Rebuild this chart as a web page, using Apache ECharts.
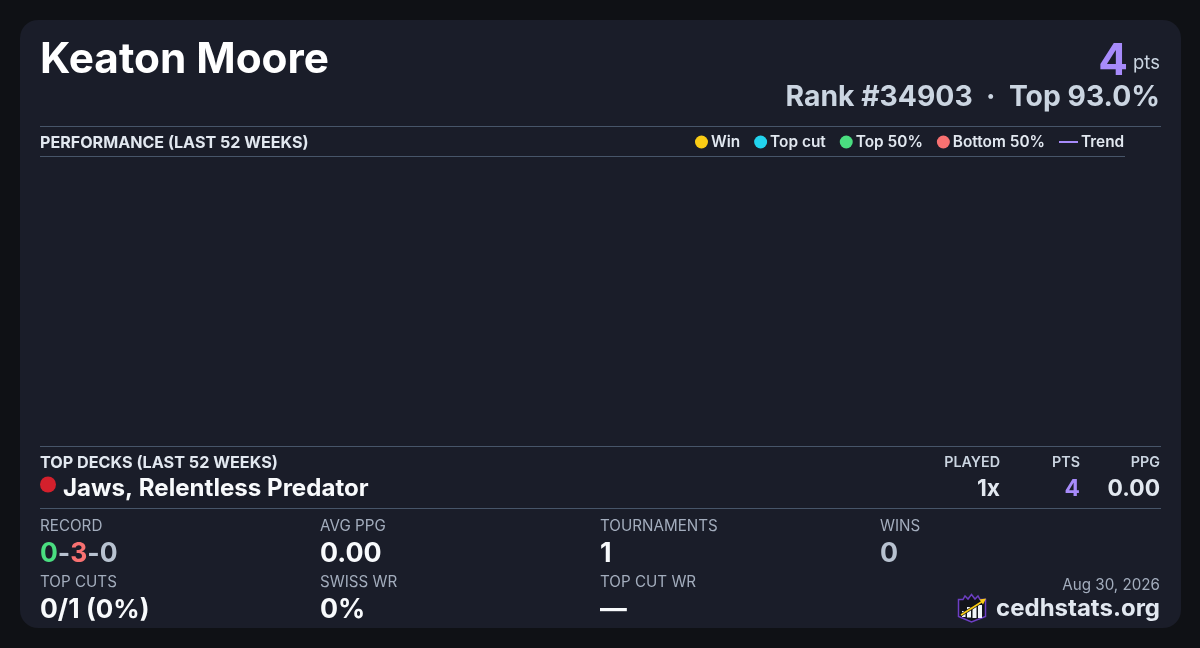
<!DOCTYPE html>
<html><head><meta charset="utf-8">
<script src="https://cdn.jsdelivr.net/npm/echarts@6/dist/echarts.min.js"></script>
<style>html,body{margin:0;padding:0;background:#0f1115}#c{width:1200px;height:648px}</style>
</head><body><div id="c"></div>
<script>
const playerName = 'Keaton Moore';
const points = '4';
const rankLine = 'Rank #34903  ·  Top 93.0%';
const weeks = [];
const winResults = [];
const topCutResults = [];
const top50Results = [];
const bottom50Results = [];
const trendValues = [];
const deckName = 'Jaws, Relentless Predator';
const deckHeaders = ['PLAYED', 'PTS', 'PPG'];
const deckValues = ['1x', '4', '0.00'];
const stats = [['RECORD', null], ['AVG PPG', '0.00'], ['TOURNAMENTS', '1'], ['WINS', '0'], ['TOP CUTS', null], ['SWISS WR', '0%'], ['TOP CUT WR', '—']];
const topCutCount = '0/1';
const topCutPct = '(0%)';
const dateText = 'Aug 30, 2026';
const siteText = 'cedhstats.org';

const F = 'Inter';
const t = (x, y, text, size, weight, fill, align) => ({
  type: 'text', x, y, silent: true,
  style: { text, fontFamily: F, fontSize: size, fontWeight: weight, fill, align: align || 'left', verticalAlign: 'middle' }
});
const rule = (x1, x2, y) => ({ type: 'rect', silent: true, shape: { x: x1, y, width: x2 - x1, height: 1 }, style: { fill: '#475569' } });

const colX = [40, 320, 600, 880];
const statEls = [];
stats.forEach((s, i) => {
  const c = i % 4, row = i < 4 ? 0 : 1;
  const ly = row ? 582.5 : 526.5, vy = row ? 610 : 554;
  statEls.push(t(colX[c], ly, s[0], 15.2, 400, '#a3adbd'));
  if (s[1] !== null) {
    const col = s[0] === 'WINS' ? '#b8c2d0' : '#f8fafc';
    statEls.push(t(colX[c], vy, s[1], 26.8, 700, col));
  }
});
statEls.push(t(40, 610, topCutCount, 26.5, 700, '#f8fafc'));
statEls.push(t(86, 610, topCutPct, 26, 700, '#f8fafc'));
statEls.push({
  type: 'text', x: 40, y: 554, silent: true,
  style: {
    text: '{g|0}{m|-}{r|3}{m|-}{n|0}', verticalAlign: 'middle', fontFamily: F,
    rich: {
      g: { fontFamily: F, fontSize: 26.5, fontWeight: 700, fill: '#4ade80' },
      r: { fontFamily: F, fontSize: 26.5, fontWeight: 700, fill: '#f87171' },
      m: { fontFamily: F, fontSize: 26.5, fontWeight: 700, fill: '#b8c2d0' },
      n: { fontFamily: F, fontSize: 26.5, fontWeight: 700, fill: '#b8c2d0' }
    }
  }
});

const logo = {
  type: 'group', x: 958, y: 594, silent: true,
  children: [
    { type: 'polygon', shape: { points: [[0.5,5.5],[5,5.5],[7,2],[10,5],[13.5,0.5],[17,5],[20,2],[22,5.5],[27.5,5.5],[27.5,22.5],[13.5,28],[0.5,22.5]] },
      style: { fill: '#12141b', stroke: '#6d3fc4', lineWidth: 1.5 } },
    { type: 'rect', shape: { x: 4, y: 17, width: 3.5, height: 6 }, style: { fill: '#f1f5f9' } },
    { type: 'rect', shape: { x: 9, y: 13, width: 4, height: 10.5 }, style: { fill: '#f1f5f9' } },
    { type: 'rect', shape: { x: 14.5, y: 12, width: 4, height: 12 }, style: { fill: '#f1f5f9' } },
    { type: 'rect', shape: { x: 20, y: 11, width: 4, height: 13 }, style: { fill: '#f1f5f9' } },
    { type: 'line', shape: { x1: 3, y1: 21, x2: 25, y2: 7 }, style: { stroke: '#111318', lineWidth: 3.2 } },
    { type: 'line', shape: { x1: 3, y1: 21, x2: 25, y2: 7 }, style: { stroke: '#facc15', lineWidth: 1.6 } },
    { type: 'polygon', shape: { points: [[28,4.5],[21.5,5.5],[25,10.5]] }, style: { fill: '#facc15' } }
  ]
};

const chart = echarts.init(document.getElementById('c'), null, { renderer: 'canvas' });
chart.setOption({
  animation: false,
  backgroundColor: '#0f1115',
  textStyle: { fontFamily: F },
  grid: { left: 40, right: 75, top: 157, bottom: 202 },
  xAxis: { type: 'category', data: weeks, show: false },
  yAxis: { type: 'value', show: false },
  legend: [
    { right: 155, top: 134.5, itemWidth: 13, itemHeight: 13, itemGap: 14, icon: 'circle', padding: 0,
      data: ['Win', 'Top cut', 'Top 50%', 'Bottom 50%'],
      textStyle: { color: '#e2e8f0', fontFamily: F, fontSize: 15.4, fontWeight: 600, padding: [0, 0, 0, -2] } },
    { left: 1059, top: 134.5, itemWidth: 19, itemHeight: 2, icon: 'rect', padding: 0,
      data: ['Trend'],
      textStyle: { color: '#e2e8f0', fontFamily: F, fontSize: 15.4, fontWeight: 600, padding: [0, 0, 0, -2] } }
  ],
  series: [
    { name: 'Win', type: 'scatter', data: winResults, itemStyle: { color: '#facc15', opacity: 1 } },
    { name: 'Top cut', type: 'scatter', data: topCutResults, itemStyle: { color: '#22d3ee', opacity: 1 } },
    { name: 'Top 50%', type: 'scatter', data: top50Results, itemStyle: { color: '#4ade80', opacity: 1 } },
    { name: 'Bottom 50%', type: 'scatter', data: bottom50Results, itemStyle: { color: '#f87171', opacity: 1 } },
    { name: 'Trend', type: 'line', data: trendValues, showSymbol: false, itemStyle: { color: '#a78bfa' }, lineStyle: { color: '#a78bfa', width: 2 } }
  ],
  graphic: { elements: [
    { type: 'rect', z: -10, silent: true, shape: { x: 20, y: 20, width: 1161, height: 608, r: 18 }, style: { fill: '#1a1d29' } },
    t(40, 60.5, playerName, 42.3, 700, '#ffffff'),
    t(1128, 62, points, 44, 700, '#a78bfa', 'right'),
    t(1160, 63, 'pts', 18.5, 400, '#cbd5e1', 'right'),
    t(1160, 97.5, rankLine, 28.3, 700, '#cbd5e1', 'right'),
    rule(40, 1161, 126),
    t(40, 143, 'PERFORMANCE (LAST 52 WEEKS)', 16.1, 700, '#e2e8f0'),
    rule(40, 1125, 156),
    rule(40, 1161, 446),
    t(40, 463, 'TOP DECKS (LAST 52 WEEKS)', 16.2, 700, '#e2e8f0'),
    { type: 'circle', silent: true, shape: { cx: 48, cy: 484.5, r: 8 }, style: { fill: '#d3202c' } },
    t(63, 489, deckName, 24.1, 700, '#f8fafc'),
    t(1000, 463, deckHeaders[0], 14.3, 600, '#cbd5e1', 'right'),
    t(1080, 463, deckHeaders[1], 14.3, 600, '#cbd5e1', 'right'),
    t(1160, 463, deckHeaders[2], 14.3, 600, '#cbd5e1', 'right'),
    t(1000, 489.5, deckValues[0], 22.8, 700, '#e2e8f0', 'right'),
    t(1080, 489.5, deckValues[1], 22.8, 700, '#a78bfa', 'right'),
    t(1160, 489.5, deckValues[2], 22.8, 700, '#e2e8f0', 'right'),
    rule(40, 1161, 508),
    ...statEls,
    t(1160, 585.5, dateText, 15.2, 400, '#a3adbd', 'right'),
    t(1160, 609, siteText, 24, 700, '#e2e8f0', 'right'),
    logo
  ] }
});
</script></body></html>
